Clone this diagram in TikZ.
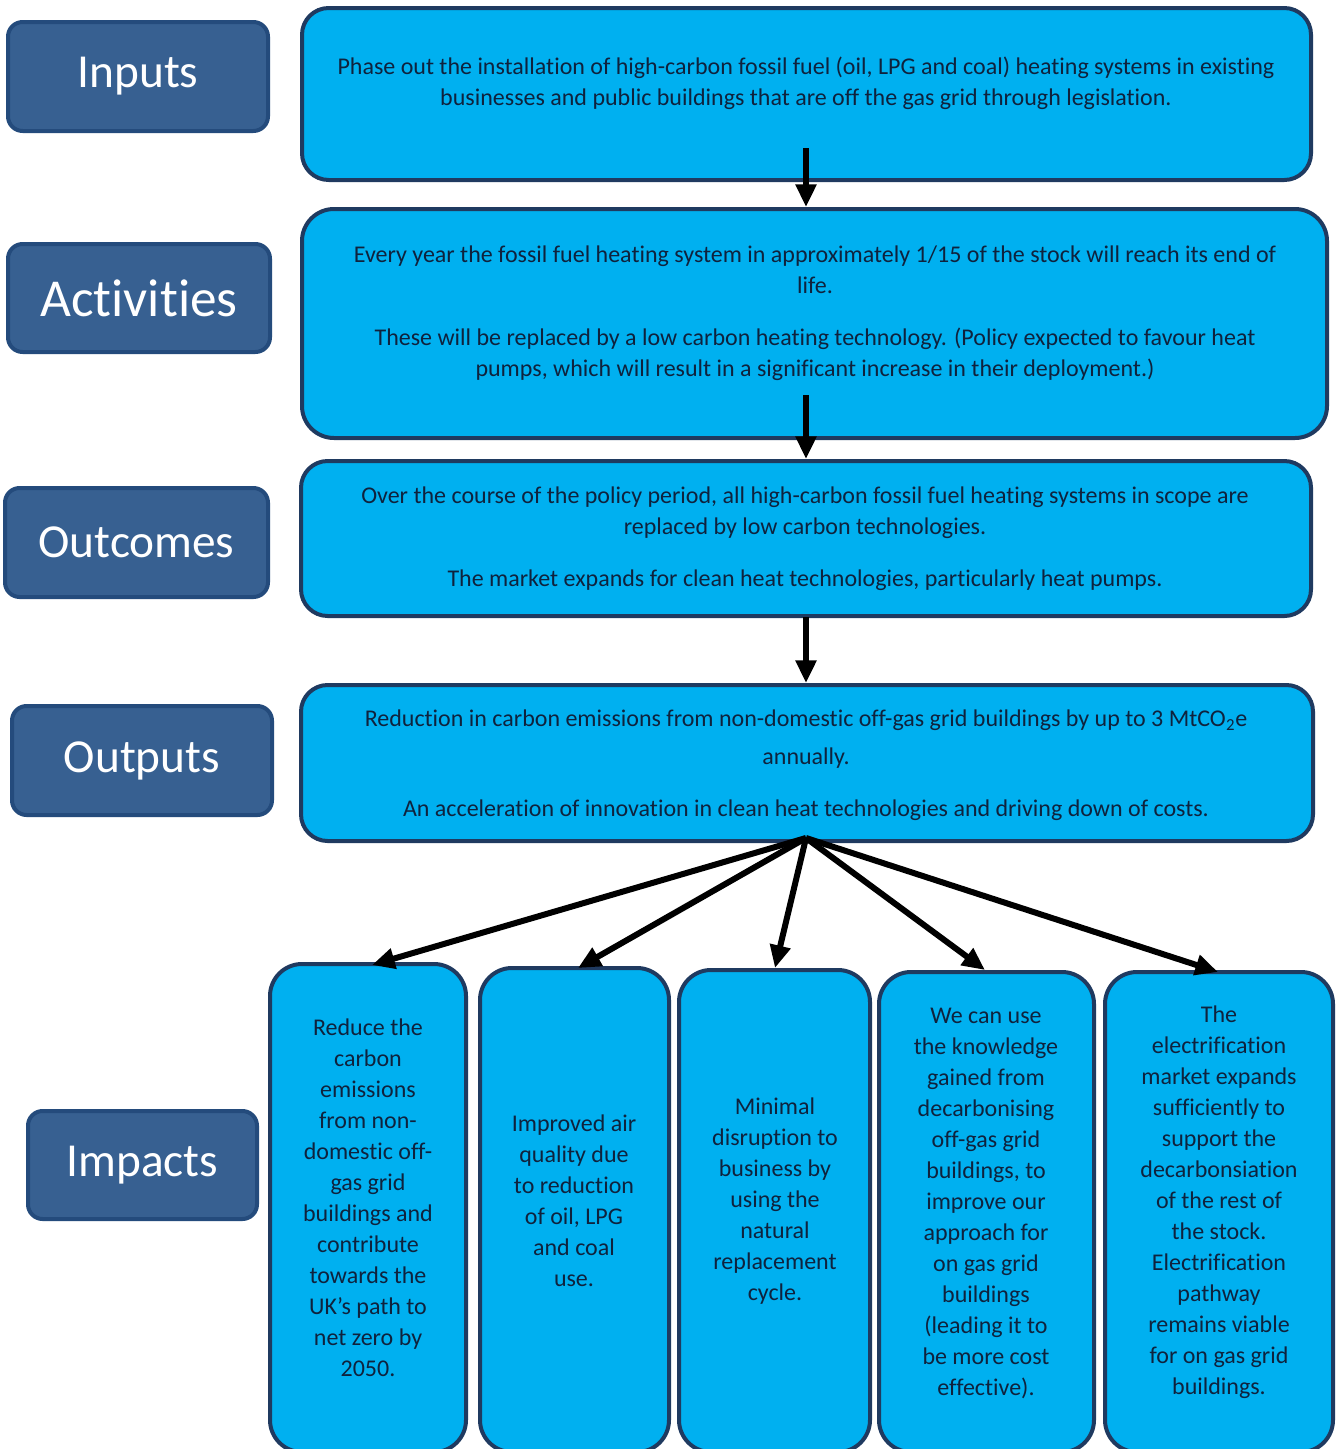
\documentclass[tikz,border=0pt]{standalone}
\usepackage{fontspec}
\setmainfont{Carlito}[Ligatures=NoCommon]
\usetikzlibrary{arrows.meta}
\definecolor{cfill}{HTML}{00B0F0}
\definecolor{cedge}{HTML}{1F3A60}
\definecolor{lfill}{HTML}{376091}
\definecolor{ledge}{HTML}{244B7C}
\definecolor{ctext}{HTML}{0F223D}
\begin{document}
\begin{tikzpicture}[x=0.75pt,y=-0.75pt,
 lab/.style={draw=ledge, fill=lfill, line width=3pt, rounded corners=11pt, text=white, font=\fontsize{35.5}{40}\selectfont, inner sep=0pt},
 cbox/.style={draw=cedge, fill=cfill, line width=3pt, rounded corners=20pt, inner sep=0pt},
 ibox/.style={draw=cedge, fill=cfill, line width=3pt, rounded corners=24pt, inner sep=0pt},
 txt/.style={text=ctext, font=\fontsize{18}{23.25}\selectfont, align=center, inner sep=0pt},
 arr/.style={line width=4.5pt, -{Triangle[length=17pt,width=15pt]}},
]
\useasboundingbox (0,0) rectangle (1338,1449);
\fill[white] (0,0) rectangle (1338,1449);

% labels
\node[lab, minimum width=260*0.75pt, minimum height=109*0.75pt] (lin) at (138,76.5) {Inputs};
\node[lab, minimum width=262*0.75pt, minimum height=108*0.75pt, font=\fontsize{40}{44}\selectfont] (lact) at (139,298) {Activities};
\node[lab, minimum width=263*0.75pt, minimum height=109*0.75pt] (lout) at (136.5,542.5) {Outcomes};
\node[lab, minimum width=260*0.75pt, minimum height=109*0.75pt] (lop) at (142,760.5) {Outputs};
\node[lab, minimum width=229*0.75pt, minimum height=108*0.75pt] (limp) at (142.5,1165) {Impacts};

% content boxes
\node[cbox, minimum width=1009*0.75pt, minimum height=172*0.75pt] (b1) at (806.5,94) {};
\node[cbox, rounded corners=24pt, minimum width=1025*0.75pt, minimum height=229*0.75pt] (b2) at (814.5,323.5) {};
\node[cbox, minimum width=1010*0.75pt, minimum height=155*0.75pt] (b3) at (806,538.5) {};
\node[cbox, minimum width=1012*0.75pt, minimum height=156*0.75pt] (b4) at (807,763) {};

\node[txt] (t1) at (806,83) {Phase out the installation of high-carbon fossil fuel (oil, LPG and coal) heating systems in existing\\businesses and public buildings that are off the gas grid through legislation.};
\node[txt] (t2) at (815,313) {Every year the fossil fuel heating system in approximately 1/15 of the stock will reach its end of\\life.\\[15.75pt]These will be replaced by a low carbon heating technology. (Policy expected to favour heat\\pumps, which will result in a significant increase in their deployment.)};
\node[txt] (t3) at (805,539) {Over the course of the policy period, all high-carbon fossil fuel heating systems in scope are\\replaced by low carbon technologies.\\[15.75pt]The market expands for clean heat technologies, particularly heat pumps.};
\node[txt] (t4) at (806,765.5) {Reduction in carbon emissions from non-domestic off-gas grid buildings by up to 3 MtCO\textsubscript{2}e\\[5pt]annually.\\[15.75pt]An acceleration of innovation in clean heat technologies and driving down of costs.};

% impact boxes
\node[ibox, minimum width=196*0.75pt, minimum height=488*0.75pt] (i1) at (368,1208) {};
\node[ibox, minimum width=189*0.75pt, minimum height=484*0.75pt] (i2) at (574.5,1210) {};
\node[ibox, minimum width=191*0.75pt, minimum height=482*0.75pt] (i3) at (774.5,1211) {};
\node[ibox, minimum width=215*0.75pt, minimum height=480*0.75pt] (i4) at (986.5,1212) {};
\node[ibox, minimum width=228*0.75pt, minimum height=480*0.75pt] (i5) at (1219,1212) {};

\node[txt] (it1) at (368,1198) {Reduce the\\carbon\\emissions\\from non-\\domestic off-\\gas grid\\buildings and\\contribute\\towards the\\UK’s path to\\net zero by\\2050.};
\node[txt] (it2) at (574,1201) {Improved air\\quality due\\to reduction\\of oil, LPG\\and coal\\use.};
\node[txt] (it3) at (775,1201.5) {Minimal\\disruption to\\business by\\using the\\natural\\replacement\\cycle.};
\node[txt] (it4) at (986,1203) {We can use\\the knowledge\\gained from\\decarbonising\\off-gas grid\\buildings, to\\improve our\\approach for\\on gas grid\\buildings\\(leading it to\\be more cost\\effective).};
\node[txt] (it5) at (1219,1202) {The\\electrification\\market expands\\sufficiently to\\support the\\decarbonsiation\\of the rest of\\the stock.\\Electrification\\pathway\\remains viable\\for on gas grid\\buildings.};

% arrows
\coordinate (s1) at (806,148);
\coordinate (s2) at (806,395);
\coordinate (s3) at (806,617);
\coordinate (s4) at (806,838);
\draw[arr] (s1) -- (s1 |- b2.north);
\draw[arr] (s2) -- (s2 |- b3.north);
\draw[arr] (s3) -- (s3 |- b4.north);
\coordinate (e1) at (372,965);
\coordinate (e2) at (578,968);
\coordinate (e3) at (775,968);
\coordinate (e4) at (985,970);
\coordinate (e5) at (1218,972);
\foreach \e in {e1,e2,e3,e4,e5} \draw[arr] (s4) -- (\e);
\end{tikzpicture}
\end{document}
